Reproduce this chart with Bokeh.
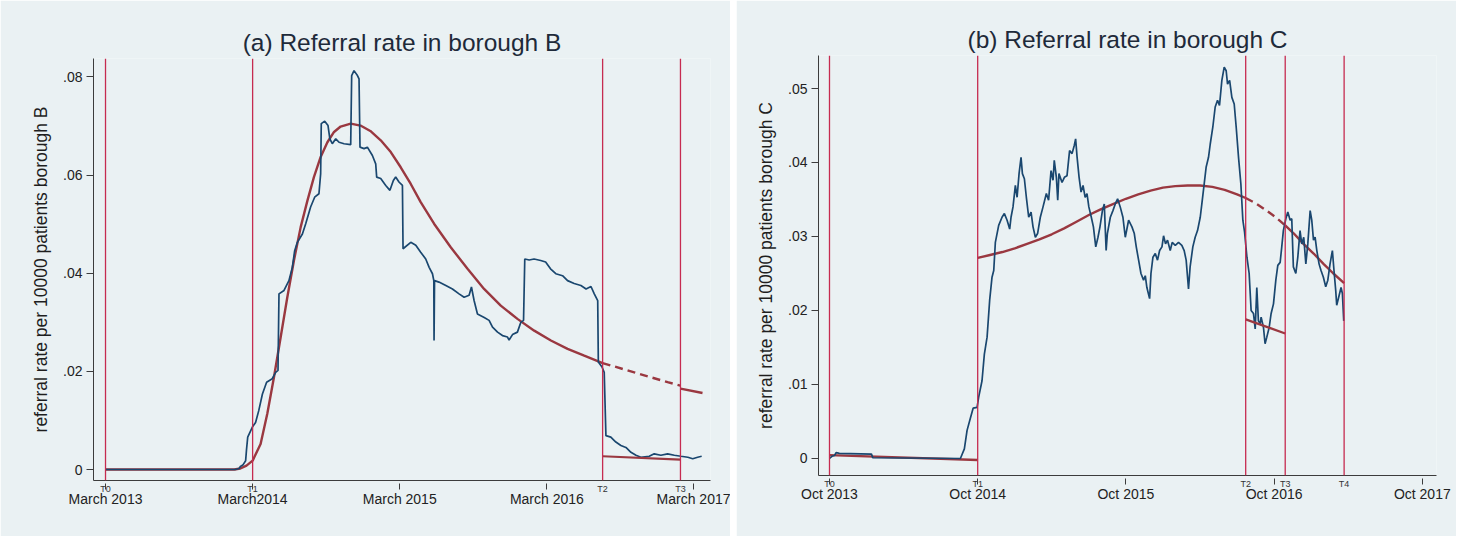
from bokeh.plotting import figure
from bokeh.layouts import row, column
from bokeh.models import FixedTicker, Span, Range1d, LinearAxis
from bokeh.embed import file_html
from bokeh.resources import INLINE

# ---------------- data (x = months since Jan 2013) ----------------
# Panel (a): borough B
b_xticks = [2, 14, 26, 38, 50]
b_xtick_labels = ["March 2013", "March2014", "March 2015", "March 2016", "March 2017"]
b_yticks = [0.0, 0.02, 0.04, 0.06, 0.08]
b_ytick_labels = ["0", ".02", ".04", ".06", ".08"]
b_t_pos = [2, 14, 42.55, 48.9]
b_t_names = ["T0", "T1", "T2", "T3"]

b_obs_m = [2.0, 12.6, 12.9, 13.0, 13.2, 13.43, 13.5, 13.6, 13.97, 14.24, 14.5, 14.8, 15.14, 15.6, 15.88,
           16.07, 16.15, 16.56, 16.96, 17.24, 17.43, 17.65, 18.06, 18.33, 18.73, 19.06, 19.41, 19.55,
           19.6, 19.88, 20.15, 20.3, 20.5, 20.78, 21.05, 21.46, 22.0, 22.08, 22.27, 22.55, 22.68, 22.76,
           23.09, 23.36, 23.77, 24.04, 24.12, 24.45, 24.86, 25.2, 25.48, 25.67, 25.94, 26.22, 26.27,
           26.9, 27.31, 27.71, 28.12, 28.4, 28.67, 28.78, 28.8, 28.84, 29.2, 29.76, 30.3, 30.84, 31.25,
           31.66, 31.85, 32.07, 32.34, 32.89, 33.29, 33.57, 33.98, 34.38, 34.79, 34.92, 35.2, 35.6,
           35.88, 36.1, 36.2, 36.56, 36.96, 37.5, 37.9, 38.3, 38.73, 39.28, 39.69, 40.23, 40.78, 41.2,
           41.6, 41.87, 42.15, 42.2, 42.5, 42.68, 42.82, 43.22, 43.63, 44.04, 44.45, 44.86, 45.27,
           45.67, 46.35, 46.76, 47.3, 47.85, 48.4, 48.94, 49.5, 49.9, 50.3, 50.63]
b_obs_v = [0.0, 0.0, 0.0002, 0.0006, 0.0009, 0.0018, 0.0040, 0.0066, 0.0086, 0.0096, 0.0120, 0.0154,
           0.0178, 0.0185, 0.0198, 0.0202, 0.0358, 0.0365, 0.0385, 0.0412, 0.0446, 0.0463, 0.0480,
           0.0501, 0.0535, 0.0555, 0.0562, 0.0603, 0.0705, 0.0710, 0.0701, 0.0674, 0.0664, 0.0674,
           0.0667, 0.0664, 0.0662, 0.0803, 0.0813, 0.0803, 0.0796, 0.0657, 0.0654, 0.0657, 0.0640,
           0.0623, 0.0596, 0.0593, 0.0579, 0.0569, 0.0589, 0.0596, 0.0586, 0.0579, 0.0450, 0.0463,
           0.0457, 0.0443, 0.0429, 0.0412, 0.0399, 0.0385, 0.0263, 0.0385, 0.0382, 0.0375, 0.0368,
           0.0358, 0.0351, 0.0355, 0.0372, 0.0344, 0.0317, 0.0310, 0.0304, 0.0290, 0.0280, 0.0273,
           0.0270, 0.0264, 0.0275, 0.0280, 0.0300, 0.0304, 0.0429, 0.0427, 0.0429, 0.0426, 0.0423,
           0.0409, 0.0399, 0.0395, 0.0385, 0.0379, 0.0375, 0.0368, 0.0373, 0.0358, 0.0344, 0.0219,
           0.0209, 0.0198, 0.0069, 0.0066, 0.0056, 0.0049, 0.0045, 0.0035, 0.0029, 0.0025, 0.0027,
           0.0032, 0.0029, 0.0032, 0.0029, 0.0027, 0.0025, 0.0022, 0.0025, 0.0027]

b_fit_m = [2.0, 12.5, 13.0, 13.5, 14.0, 14.65, 15.2, 15.74, 16.29, 16.83, 17.37, 17.92, 18.47, 19.0,
           19.55, 20.1, 20.64, 21.18, 22.0, 22.8, 23.6, 24.45, 25.27, 26.08, 26.9, 27.71, 28.8, 30.16,
           31.53, 32.88, 34.24, 35.6, 36.97, 38.33, 39.69, 41.05, 42.55]
b_fit_v = [0.0, 0.0, 0.0002, 0.0008, 0.0018, 0.0052, 0.0114, 0.0188, 0.0270, 0.0351, 0.0426, 0.0494,
           0.0548, 0.0596, 0.0637, 0.0667, 0.0688, 0.0699, 0.0705, 0.0701, 0.0690, 0.0671, 0.0647,
           0.0616, 0.0582, 0.0545, 0.0501, 0.0453, 0.0409, 0.0368, 0.0334, 0.0307, 0.0283, 0.0263,
           0.0246, 0.0232, 0.0217]
b_cf_m = [42.55, 45.13, 47.85, 48.9]
b_cf_v = [0.0217, 0.0198, 0.0178, 0.0171]
b_late_m = [48.9, 50.7]
b_late_v = [0.0165, 0.0156]
b_post_m = [42.55, 48.9]
b_post_v = [0.0027, 0.0020]

# Panel (b): borough C
c_xticks = [9, 21, 33, 45, 57]
c_xtick_labels = ["Oct 2013", "Oct 2014", "Oct 2015", "Oct 2016", "Oct 2017"]
c_yticks = [0.0, 0.01, 0.02, 0.03, 0.04, 0.05]
c_ytick_labels = ["0", ".01", ".02", ".03", ".04", ".05"]
c_t_pos = [9, 21, 42.7, 45.9, 50.67]
c_t_names = ["T0", "T1", "T2", "T3", "T4"]

c_obs_m = [9.0, 9.2, 9.4, 9.55, 9.8, 12.4, 12.5, 19.6, 19.92, 20.14, 20.4, 20.63, 20.95, 21.08, 21.35,
           21.54, 21.76, 21.97, 22.16, 22.3, 22.43, 22.7, 22.97, 23.16, 23.38, 23.59, 23.7, 23.86,
           24.05, 24.19, 24.35, 24.51, 24.62, 24.78, 24.94, 25.13, 25.32, 25.48, 25.67, 25.85, 26.07,
           26.29, 26.56, 26.74, 26.94, 27.1, 27.2, 27.37, 27.48, 27.58, 27.83, 28.02, 28.23, 28.44,
           28.64, 28.82, 28.93, 29.05, 29.21, 29.37, 29.53, 29.7, 29.85, 30.0, 30.2, 30.37, 30.56,
           30.74, 30.9, 31.1, 31.25, 31.4, 31.5, 31.74, 31.95, 32.14, 32.33, 32.54, 32.76, 32.95,
           33.22, 33.49, 33.68, 33.84, 34.03, 34.22, 34.43, 34.57, 34.7, 34.92, 35.03, 35.19, 35.38,
           35.56, 35.73, 35.92, 36.05, 36.21, 36.37, 36.59, 36.75, 37.0, 37.26, 37.53, 37.72, 37.88,
           38.07, 38.2, 38.42, 38.61, 38.8, 39.02, 39.15, 39.34, 39.5, 39.69, 39.83, 40.04, 40.23,
           40.42, 40.58, 40.77, 40.96, 41.12, 41.23, 41.4, 41.58, 41.77, 41.93, 42.12, 42.31, 42.47,
           42.61, 42.8, 42.98, 43.14, 43.33, 43.47, 43.6, 43.73, 43.87, 43.95, 44.14, 44.27, 44.41,
           44.6, 44.76, 44.95, 45.14, 45.3, 45.49, 45.62, 45.75, 45.95, 46.11, 46.3, 46.43, 46.56,
           46.76, 46.92, 47.1, 47.24, 47.4, 47.57, 47.73, 47.92, 48.05, 48.19, 48.32, 48.46, 48.64,
           48.8, 48.99, 49.18, 49.35, 49.53, 49.72, 49.85, 49.99, 50.07, 50.26, 50.42, 50.53, 50.64]
c_obs_v = [0.0, 0.0003, 0.0004, 0.0008, 0.0007, 0.0006, 0.0001, 0.0, 0.0013, 0.0038, 0.0054, 0.0068,
           0.0069, 0.0083, 0.0105, 0.0141, 0.0164, 0.0214, 0.0245, 0.0254, 0.0292, 0.0315, 0.0326,
           0.0331, 0.0322, 0.0310, 0.0326, 0.0340, 0.0369, 0.0353, 0.0385, 0.0407, 0.0385, 0.0378,
           0.0353, 0.0326, 0.0333, 0.0313, 0.0299, 0.0304, 0.0326, 0.0340, 0.0358, 0.0349, 0.0389,
           0.0376, 0.0403, 0.0380, 0.0349, 0.0385, 0.0373, 0.0380, 0.0382, 0.0416, 0.0412, 0.0423,
           0.0432, 0.0407, 0.0380, 0.0360, 0.0369, 0.0353, 0.0358, 0.0340, 0.0326, 0.0313, 0.0286,
           0.0299, 0.0313, 0.0335, 0.0344, 0.0281, 0.0304, 0.0326, 0.0335, 0.0344, 0.0351, 0.0340,
           0.0326, 0.0299, 0.0322, 0.0313, 0.0304, 0.0286, 0.0268, 0.0250, 0.0241, 0.0247, 0.0231,
           0.0216, 0.0250, 0.0272, 0.0277, 0.0268, 0.0281, 0.0286, 0.0301, 0.0290, 0.0295, 0.0281,
           0.0292, 0.0288, 0.0292, 0.0288, 0.0281, 0.0268, 0.0229, 0.0259, 0.0286, 0.0299, 0.0308,
           0.0326, 0.0344, 0.0371, 0.0394, 0.0407, 0.0425, 0.0448, 0.0475, 0.0484, 0.0477, 0.0511,
           0.0529, 0.0524, 0.0506, 0.0511, 0.0488, 0.0479, 0.0448, 0.0407, 0.0371, 0.0322, 0.0306,
           0.0272, 0.0250, 0.0200, 0.0196, 0.0175, 0.0231, 0.0186, 0.0182, 0.0191, 0.0177, 0.0155,
           0.0164, 0.0177, 0.0196, 0.0209, 0.0241, 0.0261, 0.0265, 0.0286, 0.0308, 0.0324, 0.0333,
           0.0322, 0.0324, 0.0259, 0.0250, 0.0272, 0.0308, 0.0290, 0.0299, 0.0263, 0.0290, 0.0335,
           0.0322, 0.0295, 0.0299, 0.0281, 0.0263, 0.0254, 0.0245, 0.0232, 0.0241, 0.0263, 0.0281,
           0.0254, 0.0227, 0.0207, 0.0220, 0.0231, 0.0223, 0.0186]

c_pre_m = [9.0, 21.0]
c_pre_v = [0.00045, -0.0002]
c_fit_m = [21.0, 22.0, 23.0, 24.0, 25.0, 26.0, 27.0, 28.0, 29.0, 30.0, 31.0, 32.0, 33.0, 34.0, 35.0,
           36.0, 37.0, 38.0, 39.0, 40.0, 41.0, 42.0, 42.7]
c_fit_v = [0.0271, 0.0275, 0.0279, 0.0284, 0.0290, 0.0296, 0.0303, 0.0311, 0.0320, 0.0329, 0.0337,
           0.0344, 0.0351, 0.0357, 0.0362, 0.0366, 0.0368, 0.0369, 0.0369, 0.0367, 0.0363, 0.0357,
           0.0352]
c_cf_m = [42.7, 43.5, 44.4, 45.2, 45.9]
c_cf_v = [0.0352, 0.0345, 0.0335, 0.0325, 0.0315]
c_late_m = [45.9, 46.6, 47.38, 48.2, 49.0, 49.8, 50.67]
c_late_v = [0.0315, 0.0304, 0.0290, 0.0277, 0.0263, 0.0250, 0.0237]
c_post_m = [42.7, 45.9]
c_post_v = [0.0188, 0.0169]

# ---------------- styling ----------------
BG = "#eaf1f3"
NAVY = "#1a476f"
MAROON = "#9a3840"
VLINE = "#c62b50"
AXIS = "#3c3c3c"
FONT = "Liberation Sans"


def make_panel(title, ylabel, width, borders, xr, yr, xticks, xlabels, yticks, ylabels,
               tpos, tnames, obs, solid, dashed, seg_solid):
    p = figure(width=width, height=536, output_backend="svg", toolbar_location=None,
               x_range=Range1d(*xr), y_range=Range1d(*yr), x_axis_location=None,
               min_border_left=borders[0], min_border_right=borders[1],
               min_border_top=borders[2], min_border_bottom=borders[3])
    p.background_fill_color = BG
    p.border_fill_color = BG
    p.outline_line_color = None
    p.grid.visible = False

    p.title.text = title
    p.title.align = "center"
    p.title.text_font = FONT
    p.title.text_font_size = "24.5px"
    p.title.text_font_style = "normal"
    p.title.text_color = "#1e2a3a"
    p.title.standoff = 6

    # axis closest to the frame: the axis line and the small T labels
    ax_t = LinearAxis(ticker=FixedTicker(ticks=tpos),
                      major_label_overrides=dict(zip(tpos, tnames)),
                      axis_line_color=AXIS, major_tick_line_color=None,
                      minor_tick_line_color=None, major_tick_out=0, major_tick_in=0,
                      minor_tick_out=0, minor_tick_in=0,
                      major_label_standoff=3, major_label_text_font=FONT,
                      major_label_text_font_size="9px", major_label_text_color="#333333")
    p.add_layout(ax_t, "below")
    # date axis: its ticks reach back up to the axis line
    ax_d = LinearAxis(ticker=FixedTicker(ticks=xticks),
                      major_label_overrides=dict(zip(xticks, xlabels)),
                      axis_line_color=None, major_tick_line_color=AXIS,
                      minor_tick_line_color=None, major_tick_in=13, major_tick_out=-7,
                      minor_tick_out=-7, minor_tick_in=0,
                      major_label_standoff=-6, major_label_text_font=FONT,
                      major_label_text_font_size="14px", major_label_text_color="#222222")
    p.add_layout(ax_d, "below")

    ay = p.yaxis[0]
    ay.axis_line_color = AXIS
    ay.major_tick_line_color = AXIS
    ay.minor_tick_line_color = None
    ay.major_label_text_font = FONT
    ay.major_label_text_font_size = "14px"
    ay.major_label_text_color = "#222222"
    ay.major_tick_out = 7
    ay.major_tick_in = 0
    ay.ticker = FixedTicker(ticks=yticks)
    ay.major_label_overrides = dict(zip(yticks, ylabels))
    ay.major_label_standoff = 4
    ay.axis_label = ylabel
    ay.axis_label_text_font = FONT
    ay.axis_label_text_font_size = "17.5px"
    ay.axis_label_text_font_style = "normal"
    ay.axis_label_text_color = "#1e1e1e"
    ay.axis_label_standoff = 9

    for t in tpos:
        p.add_layout(Span(location=t, dimension="height", line_color=VLINE, line_width=1.3))

    for mx, vy in solid:
        p.line(mx, vy, line_color=MAROON, line_width=2.4)
    for mx, vy in dashed:
        p.line(mx, vy, line_color=MAROON, line_width=2.4, line_dash="8 5")
    p.line(obs[0], obs[1], line_color=NAVY, line_width=1.7)
    for mx, vy in seg_solid:
        p.line(mx, vy, line_color=MAROON, line_width=2.2)
    return p


pa = make_panel("(a) Referral rate in borough B", "referral rate per 10000 patients borough B",
                730, (93, 20, 58, 56), (1.02, 51.35), (-0.00224, 0.08377),
                b_xticks, b_xtick_labels, b_yticks, b_ytick_labels, b_t_pos, b_t_names,
                (b_obs_m, b_obs_v), [(b_fit_m, b_fit_v), (b_late_m, b_late_v)],
                [(b_cf_m, b_cf_v)], [(b_post_m, b_post_v)])

pb = make_panel("(b) Referral rate in borough C", "referral rate per 10000 patients borough C",
                720, (82, 20, 55, 61), (8.11, 58.15), (-0.0023, 0.05446),
                c_xticks, c_xtick_labels, c_yticks, c_ytick_labels, c_t_pos, c_t_names,
                (c_obs_m, c_obs_v), [(c_pre_m, c_pre_v), (c_fit_m, c_fit_v), (c_late_m, c_late_v)],
                [(c_cf_m, c_cf_v)], [(c_post_m, c_post_v)])

# each panel in its own column so the two plot frames are laid out independently
layout = row(column(pa), column(pb), spacing=6)
open("out.html", "w").write(file_html(layout, INLINE))
